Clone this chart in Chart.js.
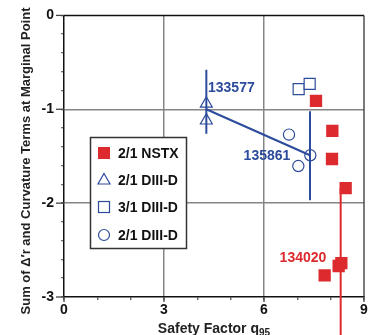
<!DOCTYPE html>
<html><head><meta charset="utf-8">
<script src="https://cdn.jsdelivr.net/npm/chart.js@4/dist/chart.umd.min.js"></script>
<style>html,body{margin:0;padding:0;background:#fff;}#wrap{width:373px;height:335px;position:relative;}</style>
</head><body><div id="wrap"><canvas id="c" width="373" height="335"></canvas></div>
<script>
// ---- data ----
const xTickLabels = [0, 3, 6, 9];
const yTickLabels = [0, -1, -2, -3];
const seriesLabels = ['2/1 NSTX', '2/1 DIII-D', '3/1 DIII-D', '2/1 DIII-D'];
const nstxQ   = [7.56, 8.05, 8.04, 8.45, 7.82, 8.24, 8.32];
const nstxVal = [-0.91, -1.23, -1.53, -1.84, -2.77, -2.67, -2.64];
const d21triQ   = [4.27, 4.27];
const d21triVal = [-0.94, -1.12];
const d31Q   = [7.04, 7.37];
const d31Val = [-0.785, -0.73];
const d21cirQ   = [6.75, 7.39, 7.03];
const d21cirVal = [-1.27, -1.49, -1.605];
// connecting line and error bars
const trendQ = [4.27, 7.38];
const trendVal = [-1.0, -1.49];
const bar133577Q = [4.27, 4.27];
const bar133577Val = [-0.58, -1.26];
const bar135861Q = [7.38, 7.38];
const bar135861Val = [-1.02, -1.97];
const bar134020Q = [8.30, 8.30];
const bar134020Val = [-1.84, -3.45];
// shot labels
const shotText = ['133577', '135861', '134020'];
const shotQ    = [4.32, 6.79, 7.87];
const shotVal  = [-0.777, -1.50, -2.59];

const RED = '#dc2a2e';
const BLUE = '#2c4b9b';
const FONT = "'Liberation Sans', Arial, Helvetica, sans-serif";

const pts = (xs, ys) => xs.map((x, i) => ({x: x, y: ys[i]}));
const isInt = v => Math.abs(v - Math.round(v)) < 1e-6;

const decor = {
  id: 'decor',
  afterDatasetsDraw(chart) {
    const ctx = chart.ctx, a = chart.chartArea;
    const xs = chart.scales.x, ys = chart.scales.y;
    ctx.save();
    // frame top / right
    ctx.strokeStyle = '#111'; ctx.lineWidth = 1.5;
    ctx.beginPath(); ctx.moveTo(a.left, a.top); ctx.lineTo(a.right, a.top); ctx.stroke();
    ctx.strokeStyle = '#333'; ctx.lineWidth = 1.3;
    ctx.beginPath(); ctx.moveTo(a.right, a.top); ctx.lineTo(a.right, a.bottom); ctx.stroke();
    // major y ticks
    ctx.strokeStyle = '#444'; ctx.lineWidth = 1.3;
    yTickLabels.forEach(v => {
      const y = ys.getPixelForValue(v);
      ctx.beginPath(); ctx.moveTo(a.left - 8, y); ctx.lineTo(a.left, y); ctx.stroke();
    });
    xTickLabels.forEach(v => {
      const x = xs.getPixelForValue(v);
      ctx.beginPath(); ctx.moveTo(x, a.bottom); ctx.lineTo(x, a.bottom + 5); ctx.stroke();
    });
    // shot labels
    ctx.font = 'bold 14px ' + FONT;
    ctx.textBaseline = 'middle';
    const cols = [BLUE, BLUE, RED];
    const al = ['left', 'right', 'right'];
    shotText.forEach((t, i) => {
      ctx.fillStyle = cols[i]; ctx.textAlign = al[i];
      ctx.fillText(t, xs.getPixelForValue(shotQ[i]), ys.getPixelForValue(shotVal[i]));
    });
    // legend box
    const bx = 90.5, by = 137.5, bw = 96, bh = 111;
    ctx.fillStyle = '#fff'; ctx.fillRect(bx, by, bw, bh);
    ctx.strokeStyle = '#333'; ctx.lineWidth = 1.5; ctx.strokeRect(bx, by, bw, bh);
    const rows = [153, 180, 207, 235];
    const sx = 104;
    // symbols
    ctx.fillStyle = RED; ctx.fillRect(sx - 6, rows[0] - 6, 12, 12);
    ctx.strokeStyle = BLUE; ctx.lineWidth = 1.2;
    ctx.beginPath(); ctx.moveTo(sx, rows[1] - 6.5); ctx.lineTo(sx + 6, rows[1] + 4); ctx.lineTo(sx - 6, rows[1] + 4); ctx.closePath(); ctx.stroke();
    ctx.strokeRect(sx - 5.5, rows[2] - 5.5, 11, 11);
    ctx.beginPath(); ctx.arc(sx, rows[3], 5.5, 0, Math.PI * 2); ctx.stroke();
    ctx.fillStyle = '#111'; ctx.textAlign = 'left'; ctx.textBaseline = 'middle';
    ctx.font = 'bold 14px ' + FONT;
    seriesLabels.forEach((t, i) => ctx.fillText(t, 118, rows[i] + 1));
    // axis titles
    ctx.fillStyle = '#222';
    ctx.font = 'bold 14px ' + FONT;
    ctx.textBaseline = 'alphabetic'; ctx.textAlign = 'left';
    const main = 'Safety Factor q';
    const wMain = ctx.measureText(main).width;
    ctx.font = 'bold 10px ' + FONT;
    const wSub = ctx.measureText('95').width;
    const x0 = (a.left + a.right) / 2 - (wMain + wSub) / 2;
    ctx.font = 'bold 14px ' + FONT;
    ctx.fillText(main, x0, 333);
    ctx.font = 'bold 10px ' + FONT;
    ctx.fillText('95', x0 + wMain, 336);
    ctx.translate(26, 161);
    ctx.rotate(-Math.PI / 2);
    ctx.font = 'bold 13px ' + FONT;
    ctx.textAlign = 'center'; ctx.textBaseline = 'middle';
    ctx.fillText('Sum of \u0394\u2032r and Curvature Terms at Marginal Point', 0, 0);
    ctx.restore();
  }
};

new Chart(document.getElementById('c'), {
  type: 'scatter',
  data: {
    datasets: [
      {label: seriesLabels[0], data: pts(nstxQ, nstxVal), pointStyle: 'rect', pointRadius: 8.7, pointHoverRadius: 8.7,
        backgroundColor: RED, borderColor: RED, borderWidth: 0},
      {label: seriesLabels[1], data: pts(d21triQ, d21triVal), pointStyle: 'triangle', pointRadius: 6.9, pointHoverRadius: 6.9,
        backgroundColor: 'rgba(0,0,0,0)', borderColor: BLUE, borderWidth: 1.2},
      {label: seriesLabels[2], data: pts(d31Q, d31Val), pointStyle: 'rect', pointRadius: 7.8, pointHoverRadius: 7.8,
        backgroundColor: '#fff', borderColor: BLUE, borderWidth: 1.2},
      {label: seriesLabels[3], data: pts(d21cirQ, d21cirVal), pointStyle: 'circle', pointRadius: 5.6, pointHoverRadius: 5.6,
        backgroundColor: 'rgba(0,0,0,0)', borderColor: BLUE, borderWidth: 1.2},
      {data: pts(trendQ, trendVal), showLine: true, pointRadius: 0, borderColor: BLUE, borderWidth: 2},
      {data: pts(bar133577Q, bar133577Val), showLine: true, pointRadius: 0, borderColor: BLUE, borderWidth: 2},
      {data: pts(bar135861Q, bar135861Val), showLine: true, pointRadius: 0, borderColor: BLUE, borderWidth: 2},
      {data: pts(bar134020Q, bar134020Val), showLine: true, pointRadius: 0, borderColor: RED, borderWidth: 2, clip: false}
    ]
  },
  options: {
    responsive: false, animation: false, devicePixelRatio: 1,
    layout: {padding: {left: 0, right: 7, top: 15, bottom: 0}},
    plugins: {legend: {display: false}, tooltip: {enabled: false}},
    scales: {
      x: {type: 'linear', min: 0, max: 9,
        afterFit(s) { s.height = 38; },
        ticks: {stepSize: 1, autoSkip: false, maxRotation: 0, padding: 2, color: '#111',
          font: {family: FONT, size: 14, weight: 'bold'},
          callback: v => xTickLabels.includes(v) ? String(v) : ''},
        grid: {color: c => (c.tick && (c.tick.value === 3 || c.tick.value === 6)) ? '#858585' : 'rgba(0,0,0,0)',
          lineWidth: 1.5, tickLength: 3, tickColor: '#444', tickWidth: 1.2},
        border: {display: true, color: '#111', width: 1.5}
      },
      y: {type: 'linear', min: -3, max: 0,
        afterFit(s) { s.width = 64; },
        ticks: {stepSize: 0.2, autoSkip: false, padding: 7, color: '#111',
          font: {family: FONT, size: 14, weight: 'bold'},
          callback: v => isInt(v) ? String(Math.round(v)) : ''},
        grid: {color: c => (c.tick && (Math.abs(c.tick.value + 1) < 1e-6 || Math.abs(c.tick.value + 2) < 1e-6)) ? '#858585' : 'rgba(0,0,0,0)',
          lineWidth: 1.5, tickLength: 3, tickColor: '#444', tickWidth: 1.2},
        border: {display: true, color: '#111', width: 1.5}
      }
    }
  },
  plugins: [decor]
});
</script>
</body></html>
